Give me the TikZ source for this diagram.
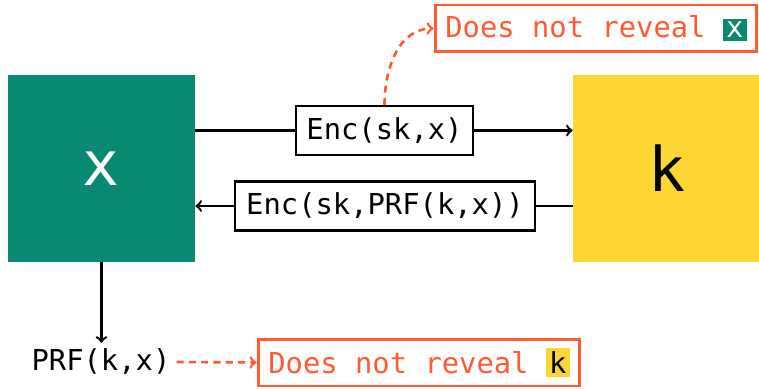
\documentclass[tikz,border=0pt]{standalone}
\usepackage{fontspec}
\setmonofont{DejaVu Sans Mono}
\usetikzlibrary{positioning}

\definecolor{xgreen}{RGB}{9,137,114}
\definecolor{kyellow}{RGB}{253,213,53}
\definecolor{warn}{RGB}{255,90,50}

\tikzset{
  party/.style={minimum width=3.74cm, minimum height=3.74cm, inner sep=0pt,
    font=\ttfamily\fontsize{35}{40}\selectfont},
  msg/.style={draw, line width=1.2pt, inner sep=0pt, minimum height=0.98cm,
    font=\ttfamily\fontsize{16.4}{20}\selectfont},
  note/.style={draw=warn, line width=1.7pt, text=warn, inner sep=0pt,
    minimum width=6.44cm, minimum height=0.94cm,
    font=\ttfamily\fontsize{16.4}{20}\selectfont},
  flow/.style={line width=1.4pt},
  reveal/.style={warn, line width=1.5pt, dash pattern=on 4pt off 3pt, ->}
}

\newcommand{\hlx}{{\fboxsep=1.8pt\colorbox{xgreen}{\textcolor{white}{x}}}}
\newcommand{\hlk}{{\fboxsep=1.8pt\colorbox{kyellow}{\textcolor{black}{k}}}}

\begin{document}
\begin{tikzpicture}[x=0.02cm, y=-0.02cm]
  \useasboundingbox (0,0) rectangle (759,388);

  % the two parties
  \node [party, fill=xgreen, text=white] (xbox) at (101.5,168.5) {x};
  \node [party, fill=kyellow] (kbox) at (666.5,168.5) {k};

  % messages
  \node [msg, minimum width=3.54cm] (enc1) at (384.5,130.5) {Enc(sk,x)};
  \node [msg, minimum width=6.0cm] (enc2) at (385,206) {Enc(sk,PRF(k,x))};

  \draw [flow] (xbox.east |- enc1) -- (enc1.west);
  \draw [flow, ->] (enc1.east) -- (kbox.west |- enc1);
  \draw [flow] (kbox.west |- enc2) -- (enc2.east);
  \draw [flow, ->] (enc2.west) -- (xbox.east |- enc2);

  % output
  \node [font=\ttfamily\fontsize{16.4}{20}\selectfont] (prf) at (101,362) {PRF(k,x)};
  \draw [flow, ->] (xbox.south) -- (xbox.south |- prf.north);

  % what leaks
  \node [note] (note1) at (596,28.5) {Does not reveal \hlx};
  \node [note] (note2) at (419,362.5) {Does not reveal \hlk};

  \draw [reveal] (enc1.north) to [out=90, in=180] (note1.west);
  \draw [reveal] (prf.east) -- (note2.west);
\end{tikzpicture}
\end{document}
